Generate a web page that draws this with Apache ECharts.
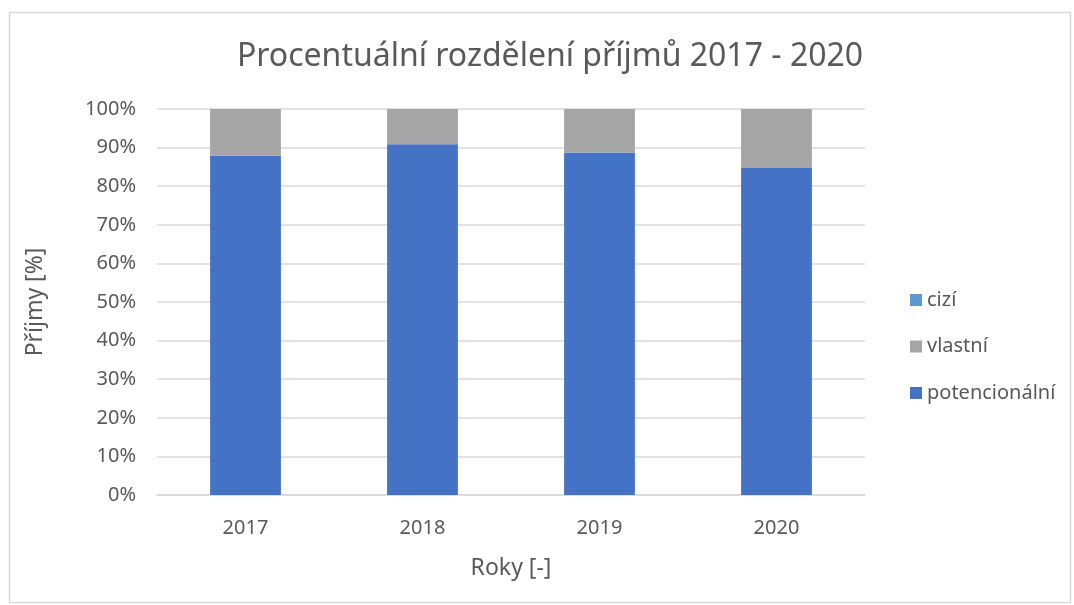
<!DOCTYPE html>
<html><head><meta charset="utf-8">
<script src="https://cdn.jsdelivr.net/npm/echarts@6/dist/echarts.min.js"></script>
<style>html,body{margin:0;padding:0;background:#fff}#c{width:1074px;height:605px}</style>
</head><body><div id="c"></div>
<script>
const categories = ['2017', '2018', '2019', '2020'];
const potencionalni = [87.9, 90.9, 88.7, 84.7];
const vlastni = [12.1, 9.1, 11.3, 15.3];
const cizi = [0, 0, 0, 0];
const yTicks = [0, 10, 20, 30, 40, 50, 60, 70, 80, 90, 100];

const font = '"Noto Sans", sans-serif';
const chart = echarts.init(document.getElementById('c'));
chart.setOption({
  animation: false,
  backgroundColor: '#fff',
  graphic: [{type: 'rect', left: 7, top: 10, shape: {width: 1061, height: 590}, style: {fill: 'none', stroke: '#d9d9d9', lineWidth: 1.5}}],
  title: {text: 'Procentuální rozdělení příjmů 2017 - 2020', left: 545, top: 36, textAlign: 'center',
    textStyle: {fontFamily: font, fontSize: 32, fontWeight: 'normal', color: '#595959'}},
  legend: {orient: 'vertical', left: 905, top: 285, itemGap: 26.5, itemWidth: 12, itemHeight: 12, icon: 'rect',
    data: ['cizí', 'vlastní', 'potencionální'],
    textStyle: {fontFamily: font, fontSize: 20, color: '#595959'}},
  grid: {left: 157, right: 209, top: 109, bottom: 110},
  xAxis: {type: 'category', data: categories, name: 'Roky [-]', nameLocation: 'middle', nameGap: 62,
    nameTextStyle: {fontFamily: font, fontSize: 23, color: '#595959'},
    axisLine: {lineStyle: {color: '#d9d9d9', width: 1.5}}, axisTick: {show: false},
    axisLabel: {fontFamily: font, fontSize: 20, color: '#595959', margin: 23}},
  yAxis: {type: 'value', min: 0, max: 100, interval: 10, name: 'Příjmy [%]', nameLocation: 'middle', nameGap: 110,
    nameTextStyle: {fontFamily: font, fontSize: 23, color: '#595959'},
    axisLine: {show: false}, axisTick: {show: false},
    splitLine: {lineStyle: {color: '#d9d9d9', width: 1.5}},
    axisLabel: {fontFamily: font, fontSize: 20, color: '#595959', margin: 21,
      formatter: v => yTicks.includes(v) ? v + '%' : ''}},
  series: [
    {name: 'potencionální', type: 'bar', stack: 's', data: potencionalni, barWidth: '40%', itemStyle: {color: '#4472C4'}},
    {name: 'vlastní', type: 'bar', stack: 's', data: vlastni, itemStyle: {color: '#A5A5A5'}},
    {name: 'cizí', type: 'bar', stack: 's', data: cizi, itemStyle: {color: '#5B9BD5'}}
  ]
});
</script></body></html>
